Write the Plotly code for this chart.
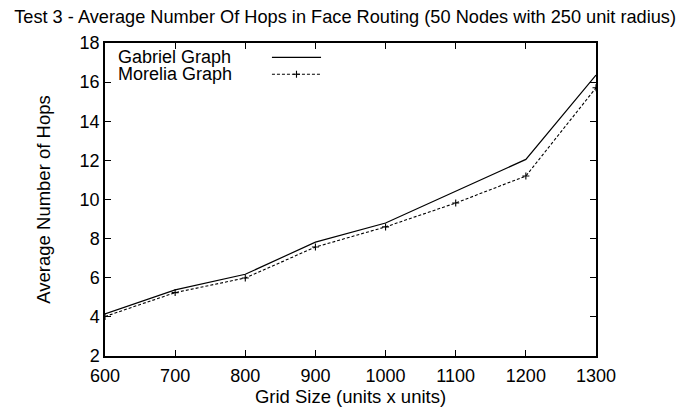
import plotly.graph_objects as go

grid_size = [600, 700, 800, 900, 1000, 1100, 1200, 1300]
gabriel_hops = [4.15, 5.38, 6.18, 7.82, 8.80, 10.44, 12.05, 16.36]
morelia_hops = [4.02, 5.24, 5.99, 7.57, 8.60, 9.82, 11.20, 15.71]

series_names = ["Gabriel Graph", "Morelia Graph"]
title_text = "Test 3 - Average Number Of Hops in Face Routing (50 Nodes with 250 unit radius)"
x_title = "Grid Size (units x units)"
y_title = "Average Number of Hops"
x_ticks = [600, 700, 800, 900, 1000, 1100, 1200, 1300]
y_ticks = [2, 4, 6, 8, 10, 12, 14, 16, 18]

FONT = "Liberation Sans, Arial, Helvetica, sans-serif"

fig = go.Figure()
fig.add_trace(go.Scatter(x=grid_size, y=gabriel_hops, mode="lines",
                         line=dict(color="black", width=1.2), showlegend=False))
fig.add_trace(go.Scatter(x=grid_size, y=morelia_hops, mode="lines+markers",
                         line=dict(color="black", width=1.1, dash="3px,2px"),
                         marker=dict(symbol="cross-thin", size=5, line=dict(color="black", width=1.1)),
                         showlegend=False))

# custom gnuplot-style key (text left, sample right) on an overlay axis
key_x = [0.34, 0.44]
fig.add_trace(go.Scatter(x=key_x, y=[0.954, 0.954], mode="lines", xaxis="x2", yaxis="y2",
                         line=dict(color="black", width=1.2), showlegend=False, hoverinfo="skip"))
fig.add_trace(go.Scatter(x=key_x, y=[0.900, 0.900], mode="lines", xaxis="x2", yaxis="y2",
                         line=dict(color="black", width=1.1, dash="3px,2px"), showlegend=False, hoverinfo="skip"))
fig.add_trace(go.Scatter(x=[sum(key_x) / 2], y=[0.900], mode="markers", xaxis="x2", yaxis="y2",
                         marker=dict(symbol="cross-thin", size=5, line=dict(color="black", width=1.1)),
                         showlegend=False, hoverinfo="skip"))

for name, yy in zip(series_names, [0.954, 0.900]):
    fig.add_annotation(x=0.024, y=yy, xref="paper", yref="paper", text=name, showarrow=False,
                       xanchor="left", yanchor="middle", borderpad=0,
                       font=dict(size=18, color="black", family=FONT))

axis_common = dict(showgrid=False, zeroline=False, showline=True, linecolor="black", linewidth=1.5,
                   mirror="allticks", ticks="inside", ticklen=6, tickcolor="black", tickwidth=1,
                   tickfont=dict(size=18, color="black", family=FONT))

# page body adds an 8px offset, so margins are shifted accordingly
fig.update_layout(
    width=690, height=413,
    margin=dict(l=97, r=102, t=35, b=65),
    paper_bgcolor="white", plot_bgcolor="white",
    font=dict(family=FONT, color="black"),
    title=dict(text=title_text, x=0.009, xanchor="left", y=0.98, yanchor="middle",
               font=dict(size=18.2, color="black", family=FONT)),
    xaxis=dict(range=[600, 1300], tickvals=x_ticks, ticktext=[str(v) for v in x_ticks],
               ticklabelstandoff=3,
               title=dict(text=x_title, font=dict(size=18.5, color="black", family=FONT), standoff=2),
               **axis_common),
    yaxis=dict(range=[2, 18], tickvals=y_ticks, ticktext=[str(v) for v in y_ticks],
               title=dict(text=y_title, font=dict(size=18.5, color="black", family=FONT), standoff=24),
               **axis_common),
    xaxis2=dict(range=[0, 1], overlaying="x", visible=False, fixedrange=True),
    yaxis2=dict(range=[0, 1], overlaying="y", visible=False, fixedrange=True),
)

fig.write_html("out.html")
